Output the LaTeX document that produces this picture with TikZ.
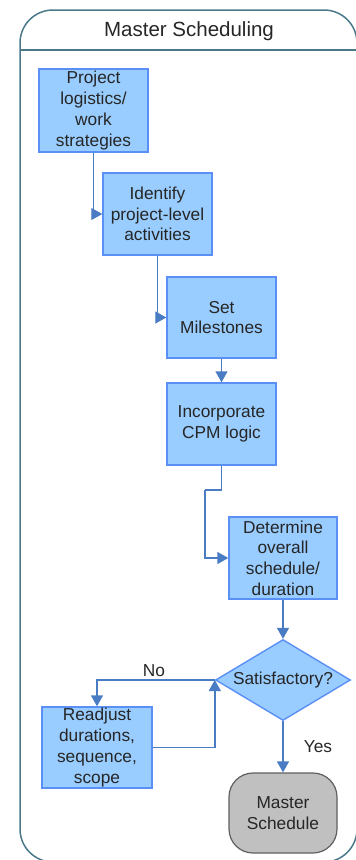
\documentclass[tikz,border=0pt]{standalone}
\usepackage{fontspec}
\setmainfont{Liberation Sans}
\usetikzlibrary{shapes.geometric,arrows.meta}
\definecolor{framec}{HTML}{4A7A8A}
\definecolor{boxfill}{HTML}{99CCFF}
\definecolor{boxline}{HTML}{5A8FF5}
\definecolor{flow}{HTML}{4A7CC4}
\definecolor{termfill}{HTML}{C0C0C0}
\definecolor{termline}{HTML}{606060}
\tikzset{
  txt/.style={font=\fontsize{17.3}{20.7}\selectfont, align=center, text=black!85},
  stepbox/.style={txt, draw=boxline, fill=boxfill, line width=1.4pt,
    inner sep=0pt, minimum width=109pt, minimum height=82pt},
  decision/.style={txt, shape=diamond, draw=boxline, fill=boxfill, line width=1.4pt,
    inner sep=0pt, aspect=1.67, minimum width=135pt, minimum height=81pt},
  terminal/.style={txt, draw=termline, fill=termfill, line width=1.2pt,
    rounded corners=24pt, inner sep=0pt, minimum width=108pt, minimum height=80pt},
  flowline/.style={draw=flow, line width=1.4pt, -{Triangle[length=11pt,width=12pt]}},
  thinflow/.style={flowline, line width=1pt},
  lbl/.style={font=\fontsize{17.3}{20}\selectfont, text=black!85}
}
\begin{document}
\begin{tikzpicture}[x=1pt,y=-1pt]
  \useasboundingbox (0,0) rectangle (356,860);
  \clip (0,0) rectangle (356,860);

  % swimlane frame with title band
  \draw[framec, line width=1.5pt, rounded corners=33pt] (20,10) rectangle (357,862);
  \draw[framec, line width=1.5pt] (20,50) -- (357,50);
  \node[font=\fontsize{20.5}{22}\selectfont, text=black!85] (title) at (189,31) {Master Scheduling};

  % process steps
  \node[stepbox, minimum height=83pt] (b1) at (93.5,110.5) {Project\\logistics/\\work\\strategies};
  \node[stepbox] (b2) at (157.5,214) {Identify\\project-level\\activities};
  \node[stepbox, minimum height=81pt] (b3) at (221.5,317.5) {Set\\Milestones};
  \node[stepbox] (b4) at (221.5,424) {Incorporate\\CPM logic};
  \node[stepbox, minimum width=108pt] (b5) at (283,558) {Determine\\overall\\schedule/\\duration};
  \node[decision] (d) at (283,680) {Satisfactory?};
  \node[stepbox, minimum width=110pt, minimum height=81pt] (r) at (97,747.5) {Readjust\\durations,\\sequence,\\scope};
  \node[terminal] (t) at (283,813) {Master\\Schedule};

  % connectors
  \coordinate (k1) at (205,490);
  \draw[thinflow] (b1.south) |- (b2.west);
  \draw[thinflow] (b2.south) |- (b3.west);
  \draw[flowline] (b3.south) -- (b4.north);
  \draw[flowline, -] (b4.south) |- (k1);
  \draw[flowline] (k1) |- (b5.west);
  \draw[flowline] (b5.south) -- (d.north);
  \draw[flowline] (d.west) -| (r.north);
  \draw[flowline] (r.east) -| (d.west);
  \draw[flowline] (d.south) -- (t.north);

  % branch labels
  \node[lbl] (no) at (154,671) {No};
  \node[lbl] (yes) at (318,747) {Yes};
\end{tikzpicture}
\end{document}
